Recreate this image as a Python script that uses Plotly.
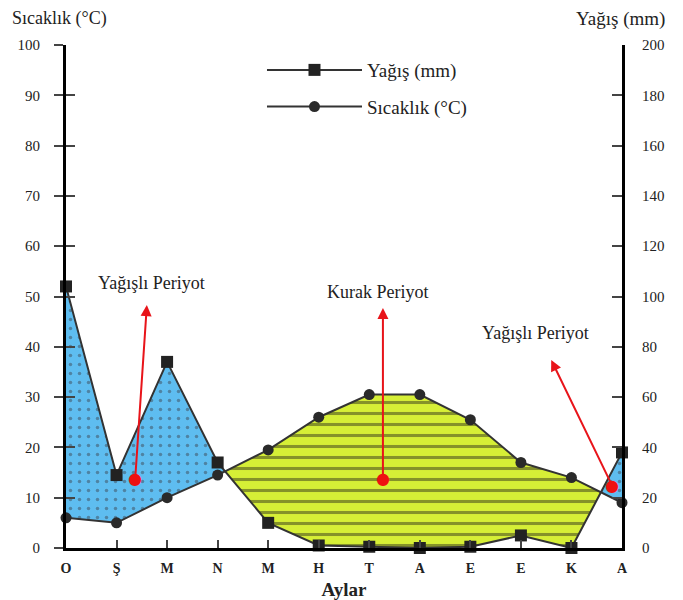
import plotly.graph_objects as go

months = ["O", "Ş", "M", "N", "M", "H", "T", "A", "E", "E", "K", "A"]
temp = [6, 5, 10, 14.5, 19.5, 26, 30.5, 30.5, 25.5, 17, 14, 9]      # Sıcaklık (°C)
rain = [104, 29, 74, 34, 10, 1, 0.5, 0, 0.5, 5, 0, 38]                # Yağış (mm)
left_ticks = list(range(0, 101, 10))
right_ticks = list(range(0, 201, 20))

FONT = "Liberation Serif, Times New Roman, serif"
n = len(months)
xs = list(range(n))
half = [r / 2 for r in rain]


def regions(wet):
    polys, cur = [], None
    for i in range(n):
        d = half[i] - temp[i]
        inside = d > 0 if wet else d <= 0
        if inside:
            if cur is None:
                cur = []
            up, lo = (half[i], temp[i]) if wet else (temp[i], half[i])
            cur.append((i, up, lo))
        if i < n - 1:
            d2 = half[i + 1] - temp[i + 1]
            if (d > 0) != (d2 > 0):
                t = d / (d - d2)
                xc = i + t
                yc = temp[i] + t * (temp[i + 1] - temp[i])
                if cur is not None:
                    cur.append((xc, yc, yc))
                    polys.append(cur)
                    cur = None
                else:
                    cur = [(xc, yc, yc)]
    if cur:
        polys.append(cur)
    out = []
    for p in polys:
        px = [q[0] for q in p] + [q[0] for q in reversed(p)]
        py = [q[1] for q in p] + [q[2] for q in reversed(p)]
        out.append((px, py))
    return out


fig = go.Figure()

for px, py in regions(True):
    fig.add_trace(go.Scatter(
        x=px, y=py, fill="toself", mode="lines", line=dict(width=0),
        fillcolor="#5ebdf0",
        fillpattern=dict(shape=".", bgcolor="#5ebdf0", fgcolor="#3d4a55",
                         size=9, solidity=0.12),
        showlegend=False, hoverinfo="skip"))
for px, py in regions(False):
    fig.add_trace(go.Scatter(
        x=px, y=py, fill="toself", mode="lines", line=dict(width=0),
        fillcolor="#d6ef36",
        fillpattern=dict(shape="-", bgcolor="#d6ef36", fgcolor="#34351c",
                         size=11, solidity=0.28),
        showlegend=False, hoverinfo="skip"))

fig.add_trace(go.Scatter(
    x=xs, y=rain, yaxis="y2", name="Yağış (mm)", mode="lines+markers",
    legendgroup="r",
    line=dict(color="#333333", width=2),
    marker=dict(symbol="square", size=12, color="#222222"),
    cliponaxis=False))
fig.add_trace(go.Scatter(
    x=xs, y=temp, name="Sıcaklık (°C)", mode="lines+markers",
    legendgroup="t",
    line=dict(color="#333333", width=2),
    marker=dict(symbol="circle", size=11, color="#2a2a2a"),
    cliponaxis=False))

ann = []
dots = [(1.37, 13.9), (6.27, 13.9), (10.8, 12.5)]
heads = [(1.6, 48.3), (6.27, 47.7), (9.6, 37.4)]
for (tx, ty), (hx, hy) in zip(dots, heads):
    ann.append(dict(x=hx, y=hy, ax=tx, ay=ty, axref="x", ayref="y",
                    xref="x", yref="y", text="", showarrow=True,
                    arrowhead=2, arrowsize=1.1, arrowwidth=2, arrowcolor="#e8141a",
                    standoff=0, startstandoff=0))
    ann.append(dict(x=tx, y=ty, xref="x", yref="y", text="●", showarrow=False,
                    font=dict(color="#ee1111", size=16, family="DejaVu Sans")))

labels = [("Yağışlı Periyot", 1.70, 52.7), ("Kurak Periyot", 6.17, 50.9),
          ("Yağışlı Periyot", 9.28, 42.7)]
for txt, lx, ly in labels:
    ann.append(dict(x=lx, y=ly, xref="x", yref="y", text=txt, showarrow=False,
                    font=dict(family=FONT, size=18, color="#222222")))

ann.append(dict(x=-56 / 556, y=1.0517, xref="paper", yref="paper", xanchor="left",
                yanchor="middle", text="Sıcaklık (°C)", showarrow=False,
                font=dict(family=FONT, size=18, color="#222222")))
ann.append(dict(x=0.9973, y=1.0517, xref="paper", yref="paper", xanchor="center",
                yanchor="middle", text="Yağış (mm)", showarrow=False,
                font=dict(family=FONT, size=19, color="#222222")))

fig.update_layout(
    width=683, height=600,
    margin=dict(l=58, r=69, t=37, b=60, autoexpand=False),
    paper_bgcolor="white", plot_bgcolor="white",
    font=dict(family=FONT, size=15, color="#222222"),
    annotations=ann,
    showlegend=True,
    legend=dict(x=0.3525, y=0.988, xanchor="left", yanchor="top",
                itemwidth=95, bgcolor="rgba(0,0,0,0)",
                font=dict(family=FONT, size=19, color="#222222"),
                tracegroupgap=9),
    xaxis=dict(range=[0, 11], tickvals=xs, ticktext=[f"<b>{m}</b>" for m in months],
               tickfont=dict(size=14), ticks="inside", ticklen=8, tickwidth=2,
               showline=True, linewidth=3, linecolor="black", showgrid=False,
               zeroline=False, ticklabelstandoff=5, automargin=False,
               title=dict(text="<b>Aylar</b>", font=dict(size=19), standoff=8)),
    yaxis=dict(range=[0, 100], tickvals=left_ticks, ticks="outside", ticklen=9,
               tickwidth=2, showline=True, linewidth=3, linecolor="black",
               showgrid=False, zeroline=False, ticklabelstandoff=11,
               automargin=False, tickfont=dict(size=15)),
    yaxis2=dict(range=[0, 200], tickvals=right_ticks, overlaying="y", side="right",
                ticks="inside", ticklen=10, tickwidth=2, showline=True, linewidth=3,
                linecolor="black", showgrid=False, zeroline=False,
                ticklabelstandoff=14, automargin=False, tickfont=dict(size=15)),
    yaxis3=dict(range=[0, 100], tickvals=left_ticks, overlaying="y", side="left",
                ticks="inside", ticklen=9, tickwidth=2, showticklabels=False,
                showline=False, showgrid=False, zeroline=False, automargin=False),
)

fig.add_trace(go.Scatter(x=[None], y=[None], yaxis="y3", showlegend=False,
                         hoverinfo="skip"))

fig.write_html("out.html")
